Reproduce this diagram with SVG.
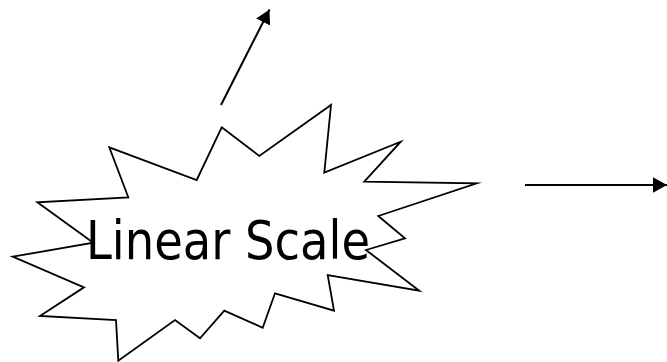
<svg xmlns="http://www.w3.org/2000/svg" width="667" height="362" viewBox="0 0 667 362">
  <style>
    .star { fill: #ffffff; stroke: #000000; stroke-width: 1.8; stroke-linejoin: miter; stroke-miterlimit: 20; }
    .conn { stroke: #000000; stroke-width: 2; fill: none; }
    .label { font-family: "DejaVu Sans", Verdana, sans-serif; font-size: 54px; fill: #000000; }
  </style>
  <defs>
    <marker id="arrow" markerUnits="userSpaceOnUse" markerWidth="15" markerHeight="16" refX="14" refY="7.75" orient="auto">
      <path d="M0,0 L14,7.75 L0,15.5 z" fill="#000000"/>
    </marker>
  </defs>
  <rect width="667" height="362" fill="#ffffff"/>
  <g id="linear-scale">
    <polygon class="star" points="221.7,127.3 259.3,156 331,105 324.3,172.7 400.7,141.7 364.3,181.7 476.7,183.3 378.3,216 405,238.3 366,250 419.3,290.7 327.7,275 334,310.7 275,293.3 262.7,327.7 224.3,310.7 200,338.3 175,320 118.3,360.7 116,320 40,316 84,287.3 12.7,256.7 93.3,242.7 37.3,202.3 128.3,197.3 109.3,147.3 196.7,180"/>
    <text class="label" x="86" y="259" textLength="284" lengthAdjust="spacingAndGlyphs">Linear Scale</text>
  </g>
  <g id="connectors">
    <line class="conn" x1="221" y1="105" x2="269.5" y2="9.5" marker-end="url(#arrow)"/>
    <line class="conn" x1="525" y1="185" x2="667" y2="185" marker-end="url(#arrow)"/>
  </g>
</svg>
